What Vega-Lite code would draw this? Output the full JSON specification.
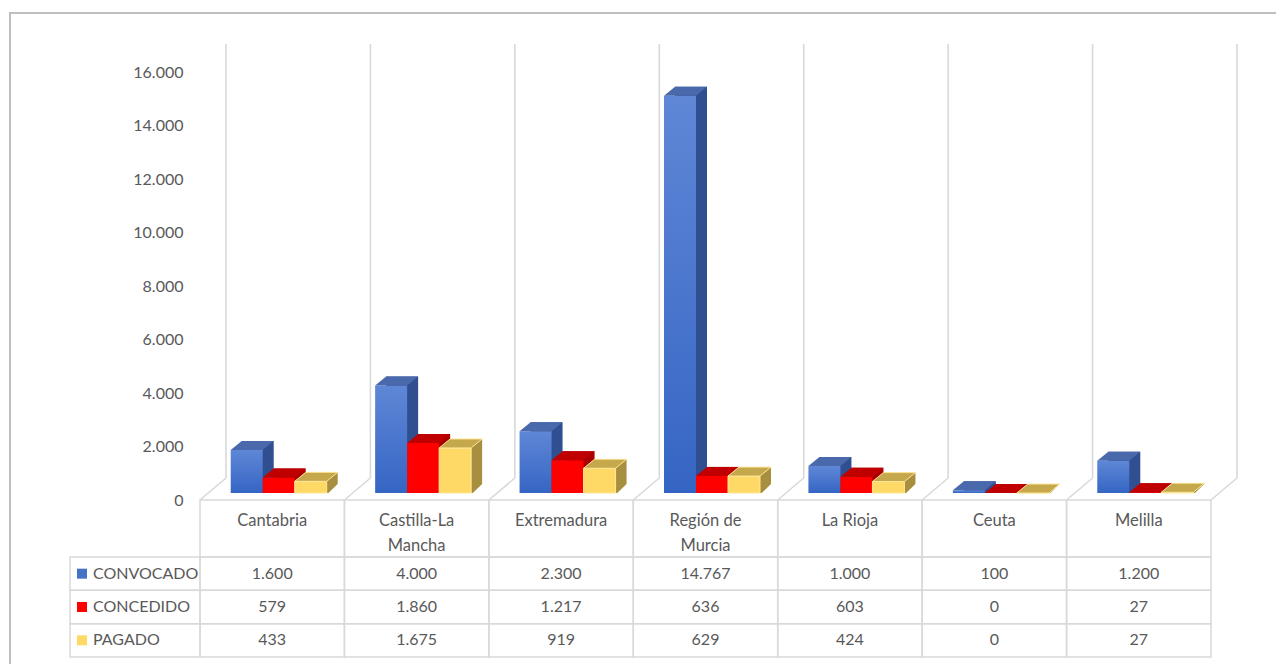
{
  "$schema": "https://vega.github.io/schema/vega-lite/v6.json",
  "width": 1272,
  "height": 657,
  "autosize": {"type": "none"},
  "padding": {"left": 10, "top": 13, "right": -6, "bottom": -6},
  "background": "white",
  "config": {
    "font": "Lato",
    "view": {"stroke": "#BFBFBF", "strokeWidth": 2},
    "locale": {"number": {"decimal": ",", "thousands": ".", "grouping": [3], "currency": ["", " €"]}},
    "axis": {"labelFont": "Lato"}
  },
  "data": {"values": [
    {"region": "Cantabria", "serie": "CONVOCADO", "value": 1600},
    {"region": "Castilla-La Mancha", "serie": "CONVOCADO", "value": 4000},
    {"region": "Extremadura", "serie": "CONVOCADO", "value": 2300},
    {"region": "Región de Murcia", "serie": "CONVOCADO", "value": 14767},
    {"region": "La Rioja", "serie": "CONVOCADO", "value": 1000},
    {"region": "Ceuta", "serie": "CONVOCADO", "value": 100},
    {"region": "Melilla", "serie": "CONVOCADO", "value": 1200},
    {"region": "Cantabria", "serie": "CONCEDIDO", "value": 579},
    {"region": "Castilla-La Mancha", "serie": "CONCEDIDO", "value": 1860},
    {"region": "Extremadura", "serie": "CONCEDIDO", "value": 1217},
    {"region": "Región de Murcia", "serie": "CONCEDIDO", "value": 636},
    {"region": "La Rioja", "serie": "CONCEDIDO", "value": 603},
    {"region": "Ceuta", "serie": "CONCEDIDO", "value": 0},
    {"region": "Melilla", "serie": "CONCEDIDO", "value": 27},
    {"region": "Cantabria", "serie": "PAGADO", "value": 433},
    {"region": "Castilla-La Mancha", "serie": "PAGADO", "value": 1675},
    {"region": "Extremadura", "serie": "PAGADO", "value": 919},
    {"region": "Región de Murcia", "serie": "PAGADO", "value": 629},
    {"region": "La Rioja", "serie": "PAGADO", "value": 424},
    {"region": "Ceuta", "serie": "PAGADO", "value": 0},
    {"region": "Melilla", "serie": "PAGADO", "value": 27}
  ]},
  "resolve": {"scale": {"y": "independent", "color": "independent"}, "axis": {"y": "independent"}},
  "layer": [
    {
      "transform": [{"filter": "datum.serie === 'CONVOCADO'"}],
      "mark": {"type": "point", "shape": "M0,0L0.052,-0.044L0.052,-0.912", "size": 1000000, "filled": false, "fill": "transparent", "stroke": "#D9D9D9", "strokeWidth": 1.6, "opacity": 1},
      "encoding": {
        "x": {"field": "region", "type": "nominal", "sort": null, "bandPosition": 0, "scale": {"domain": ["Cantabria", "Castilla-La Mancha", "Extremadura", "Región de Murcia", "La Rioja", "Ceuta", "Melilla"], "range": [190, 1201], "paddingInner": 0, "paddingOuter": 0},
          "axis": {"orient": "bottom", "offset": -170, "domain": false, "ticks": false, "grid": false, "title": null, "labelAngle": 0, "labelFontSize": 16.5, "labelColor": "#595959", "labelPadding": 12, "labelLineHeight": 25, "labelBaseline": "top", "labelAlign": "center", "bandPosition": 0.5,
            "labelExpr": "datum.label == 'Castilla-La Mancha' ? ['Castilla-La', 'Mancha'] : datum.label == 'Región de Murcia' ? ['Región de', 'Murcia'] : datum.label"}},
        "y": {"datum": 0, "type": "quantitative", "scale": {"domain": [0, 16000], "range": [487, 59], "nice": false, "zero": false},
          "axis": {"orient": "left", "offset": -190, "values": [0, 2000, 4000, 6000, 8000, 10000, 12000, 14000, 16000], "format": ",d", "domain": false, "ticks": false, "grid": false, "title": null, "labelFontSize": 16, "labelColor": "#595959", "labelPadding": 17}}
      }
    },
    {
      "transform": [{"filter": "datum.serie === 'CONVOCADO' && datum.region === 'Melilla'"}],
      "mark": {"type": "point", "shape": "M0,0L0.052,-0.044L0.052,-0.912", "size": 1000000, "filled": false, "fill": "transparent", "stroke": "#D9D9D9", "strokeWidth": 1.6, "opacity": 1},
      "encoding": {
        "x": {"field": "region", "type": "nominal", "sort": null, "bandPosition": 1, "scale": {"domain": ["Cantabria", "Castilla-La Mancha", "Extremadura", "Región de Murcia", "La Rioja", "Ceuta", "Melilla"], "range": [190, 1201], "paddingInner": 0, "paddingOuter": 0}},
        "y": {"datum": 0, "type": "quantitative", "scale": {"domain": [0, 16000], "range": [487, 59], "nice": false, "zero": false}, "axis": null}
      }
    },
    {
      "transform": [{"filter": "datum.serie === 'CONVOCADO'"}],
      "mark": {"type": "rect", "fill": "transparent", "stroke": "#D9D9D9", "strokeWidth": 1.5},
      "encoding": {
        "x": {"field": "region", "type": "nominal", "sort": null, "scale": {"domain": ["Cantabria", "Castilla-La Mancha", "Extremadura", "Región de Murcia", "La Rioja", "Ceuta", "Melilla"], "range": [190, 1201], "paddingInner": 0, "paddingOuter": 0}},
        "y": {"datum": "h", "type": "nominal", "scale": {"domain": ["h"], "range": [487, 544], "paddingInner": 0, "paddingOuter": 0}, "axis": null}
      }
    },
    {
      "mark": {"type": "rect", "fill": "transparent", "stroke": "#D9D9D9", "strokeWidth": 1.5},
      "encoding": {
        "x": {"field": "region", "type": "nominal", "sort": null, "scale": {"domain": ["Cantabria", "Castilla-La Mancha", "Extremadura", "Región de Murcia", "La Rioja", "Ceuta", "Melilla"], "range": [190, 1201], "paddingInner": 0, "paddingOuter": 0}},
        "y": {"field": "serie", "type": "nominal", "scale": {"domain": ["CONVOCADO", "CONCEDIDO", "PAGADO"], "range": [544, 644], "paddingInner": 0, "paddingOuter": 0}, "axis": null}
      }
    },
    {
      "mark": {"type": "text", "fontSize": 16, "color": "#595959"},
      "encoding": {
        "x": {"field": "region", "type": "nominal", "sort": null, "scale": {"domain": ["Cantabria", "Castilla-La Mancha", "Extremadura", "Región de Murcia", "La Rioja", "Ceuta", "Melilla"], "range": [190, 1201], "paddingInner": 0, "paddingOuter": 0}},
        "y": {"field": "serie", "type": "nominal", "scale": {"domain": ["CONVOCADO", "CONCEDIDO", "PAGADO"], "range": [544, 644], "paddingInner": 0, "paddingOuter": 0}, "axis": null},
        "text": {"field": "value", "type": "quantitative", "format": ","}
      }
    },
    {
      "transform": [{"filter": "datum.region === 'Cantabria'"}],
      "mark": {"type": "rect", "width": 130, "xOffset": -137.2, "fill": "transparent", "stroke": "#D9D9D9", "strokeWidth": 1.5},
      "encoding": {
        "x": {"field": "region", "type": "nominal", "sort": null, "scale": {"domain": ["Cantabria", "Castilla-La Mancha", "Extremadura", "Región de Murcia", "La Rioja", "Ceuta", "Melilla"], "range": [190, 1201], "paddingInner": 0, "paddingOuter": 0}},
        "y": {"field": "serie", "type": "nominal", "scale": {"domain": ["CONVOCADO", "CONCEDIDO", "PAGADO"], "range": [544, 644], "paddingInner": 0, "paddingOuter": 0}, "axis": null}
      }
    },
    {
      "transform": [{"filter": "datum.region === 'Cantabria'"}],
      "mark": {"type": "point", "shape": "square", "size": 100, "filled": true, "opacity": 1, "xOffset": -118},
      "encoding": {
        "x": {"field": "region", "type": "nominal", "sort": null, "bandPosition": 0, "scale": {"domain": ["Cantabria", "Castilla-La Mancha", "Extremadura", "Región de Murcia", "La Rioja", "Ceuta", "Melilla"], "range": [190, 1201], "paddingInner": 0, "paddingOuter": 0}},
        "y": {"field": "serie", "type": "nominal", "scale": {"domain": ["CONVOCADO", "CONCEDIDO", "PAGADO"], "range": [544, 644], "paddingInner": 0, "paddingOuter": 0}, "axis": null},
        "color": {"field": "serie", "type": "nominal", "scale": {"domain": ["CONVOCADO", "CONCEDIDO", "PAGADO"], "range": ["#4472C4", "#FF0000", "#FFD966"]}, "legend": null}
      }
    },
    {
      "transform": [{"filter": "datum.region === 'Cantabria'"}],
      "mark": {"type": "text", "fontSize": 16, "color": "#595959", "align": "left", "dx": -107},
      "encoding": {
        "x": {"field": "region", "type": "nominal", "sort": null, "bandPosition": 0, "scale": {"domain": ["Cantabria", "Castilla-La Mancha", "Extremadura", "Región de Murcia", "La Rioja", "Ceuta", "Melilla"], "range": [190, 1201], "paddingInner": 0, "paddingOuter": 0}},
        "y": {"field": "serie", "type": "nominal", "scale": {"domain": ["CONVOCADO", "CONCEDIDO", "PAGADO"], "range": [544, 644], "paddingInner": 0, "paddingOuter": 0}, "axis": null},
        "text": {"field": "serie", "type": "nominal"}
      }
    },
    {
      "transform": [{"filter": "datum.serie === 'CONVOCADO'"}],
      "mark": {"type": "bar", "width": 32, "xOffset": -14.5, "yOffset": -9, "color": "#2F4F91"},
      "encoding": {
        "x": {"field": "region", "type": "nominal", "sort": null, "scale": {"domain": ["Cantabria", "Castilla-La Mancha", "Extremadura", "Región de Murcia", "La Rioja", "Ceuta", "Melilla"], "range": [190, 1201], "paddingInner": 0, "paddingOuter": 0}},
        "y": {"field": "value", "type": "quantitative", "stack": null, "scale": {"domain": [0, 16000], "range": [480, 49.6], "nice": false, "zero": false}, "axis": null}
      }
    },
    {
      "transform": [{"filter": "datum.serie === 'CONVOCADO'"}],
      "mark": {"type": "bar", "width": 32, "xOffset": -25.5,
        "color": {"gradient": "linear", "x1": 0, "y1": 0, "x2": 0, "y2": 1, "stops": [{"offset": 0, "color": "#5F87D6"}, {"offset": 1, "color": "#3565C4"}]}},
      "encoding": {
        "x": {"field": "region", "type": "nominal", "sort": null, "scale": {"domain": ["Cantabria", "Castilla-La Mancha", "Extremadura", "Región de Murcia", "La Rioja", "Ceuta", "Melilla"], "range": [190, 1201], "paddingInner": 0, "paddingOuter": 0}},
        "y": {"field": "value", "type": "quantitative", "stack": null, "scale": {"domain": [0, 16000], "range": [480, 49.6], "nice": false, "zero": false}, "axis": null}
      }
    },
    {
      "transform": [{"filter": "datum.serie === 'CONVOCADO'"}],
      "mark": {"type": "point", "shape": "M-0.5,0L0.5,0L0.84375,-0.28125L-0.15625,-0.28125Z", "size": 4096, "filled": true, "opacity": 1, "color": "#4A68AC", "strokeWidth": 0, "xOffset": -25.5},
      "encoding": {
        "x": {"field": "region", "type": "nominal", "sort": null, "scale": {"domain": ["Cantabria", "Castilla-La Mancha", "Extremadura", "Región de Murcia", "La Rioja", "Ceuta", "Melilla"], "range": [190, 1201], "paddingInner": 0, "paddingOuter": 0}},
        "y": {"field": "value", "type": "quantitative", "scale": {"domain": [0, 16000], "range": [480, 49.6], "nice": false, "zero": false}, "axis": null}
      }
    },
    {
      "transform": [{"filter": "datum.serie === 'CONCEDIDO'"}],
      "mark": {"type": "bar", "width": 32, "xOffset": 17.5, "yOffset": -9, "color": "#A80000"},
      "encoding": {
        "x": {"field": "region", "type": "nominal", "sort": null, "scale": {"domain": ["Cantabria", "Castilla-La Mancha", "Extremadura", "Región de Murcia", "La Rioja", "Ceuta", "Melilla"], "range": [190, 1201], "paddingInner": 0, "paddingOuter": 0}},
        "y": {"field": "value", "type": "quantitative", "stack": null, "scale": {"domain": [0, 16000], "range": [480, 49.6], "nice": false, "zero": false}, "axis": null}
      }
    },
    {
      "transform": [{"filter": "datum.serie === 'CONCEDIDO'"}],
      "mark": {"type": "bar", "width": 32, "xOffset": 6.5, "color": "#FF0000"},
      "encoding": {
        "x": {"field": "region", "type": "nominal", "sort": null, "scale": {"domain": ["Cantabria", "Castilla-La Mancha", "Extremadura", "Región de Murcia", "La Rioja", "Ceuta", "Melilla"], "range": [190, 1201], "paddingInner": 0, "paddingOuter": 0}},
        "y": {"field": "value", "type": "quantitative", "stack": null, "scale": {"domain": [0, 16000], "range": [480, 49.6], "nice": false, "zero": false}, "axis": null}
      }
    },
    {
      "transform": [{"filter": "datum.serie === 'CONCEDIDO'"}],
      "mark": {"type": "point", "shape": "M-0.5,0L0.5,0L0.84375,-0.28125L-0.15625,-0.28125Z", "size": 4096, "filled": true, "opacity": 1, "color": "#C00000", "strokeWidth": 0, "xOffset": 6.5},
      "encoding": {
        "x": {"field": "region", "type": "nominal", "sort": null, "scale": {"domain": ["Cantabria", "Castilla-La Mancha", "Extremadura", "Región de Murcia", "La Rioja", "Ceuta", "Melilla"], "range": [190, 1201], "paddingInner": 0, "paddingOuter": 0}},
        "y": {"field": "value", "type": "quantitative", "scale": {"domain": [0, 16000], "range": [480, 49.6], "nice": false, "zero": false}, "axis": null}
      }
    },
    {
      "transform": [{"filter": "datum.serie === 'PAGADO'"}],
      "mark": {"type": "bar", "width": 32, "xOffset": 49.5, "yOffset": -9, "color": "#A88F3F"},
      "encoding": {
        "x": {"field": "region", "type": "nominal", "sort": null, "scale": {"domain": ["Cantabria", "Castilla-La Mancha", "Extremadura", "Región de Murcia", "La Rioja", "Ceuta", "Melilla"], "range": [190, 1201], "paddingInner": 0, "paddingOuter": 0}},
        "y": {"field": "value", "type": "quantitative", "stack": null, "scale": {"domain": [0, 16000], "range": [480, 49.6], "nice": false, "zero": false}, "axis": null}
      }
    },
    {
      "transform": [{"filter": "datum.serie === 'PAGADO'"}],
      "mark": {"type": "bar", "width": 32, "xOffset": 38.5, "color": "#FFD966", "stroke": "#FFE79A", "strokeWidth": 1},
      "encoding": {
        "x": {"field": "region", "type": "nominal", "sort": null, "scale": {"domain": ["Cantabria", "Castilla-La Mancha", "Extremadura", "Región de Murcia", "La Rioja", "Ceuta", "Melilla"], "range": [190, 1201], "paddingInner": 0, "paddingOuter": 0}},
        "y": {"field": "value", "type": "quantitative", "stack": null, "scale": {"domain": [0, 16000], "range": [480, 49.6], "nice": false, "zero": false}, "axis": null}
      }
    },
    {
      "transform": [{"filter": "datum.serie === 'PAGADO'"}],
      "mark": {"type": "point", "shape": "M-0.5,0L0.5,0L0.84375,-0.28125L-0.15625,-0.28125Z", "size": 4096, "filled": true, "opacity": 1, "fill": "#C6A84C", "stroke": "#FFE79A", "strokeWidth": 1, "xOffset": 38.5},
      "encoding": {
        "x": {"field": "region", "type": "nominal", "sort": null, "scale": {"domain": ["Cantabria", "Castilla-La Mancha", "Extremadura", "Región de Murcia", "La Rioja", "Ceuta", "Melilla"], "range": [190, 1201], "paddingInner": 0, "paddingOuter": 0}},
        "y": {"field": "value", "type": "quantitative", "scale": {"domain": [0, 16000], "range": [480, 49.6], "nice": false, "zero": false}, "axis": null}
      }
    },
    {
      "transform": [{"filter": "datum.serie === 'PAGADO'"}],
      "mark": {"type": "point", "shape": "M0.52,0.03L0.87,0.03L0.87,-0.3L0.84375,-0.28125Z", "size": 4096, "filled": true, "opacity": 1, "color": "white", "strokeWidth": 0, "xOffset": 38.5},
      "encoding": {
        "x": {"field": "region", "type": "nominal", "sort": null, "scale": {"domain": ["Cantabria", "Castilla-La Mancha", "Extremadura", "Región de Murcia", "La Rioja", "Ceuta", "Melilla"], "range": [190, 1201], "paddingInner": 0, "paddingOuter": 0}},
        "y": {"datum": 0, "type": "quantitative", "scale": {"domain": [0, 16000], "range": [480, 49.6], "nice": false, "zero": false}, "axis": null}
      }
    }
  ]
}
